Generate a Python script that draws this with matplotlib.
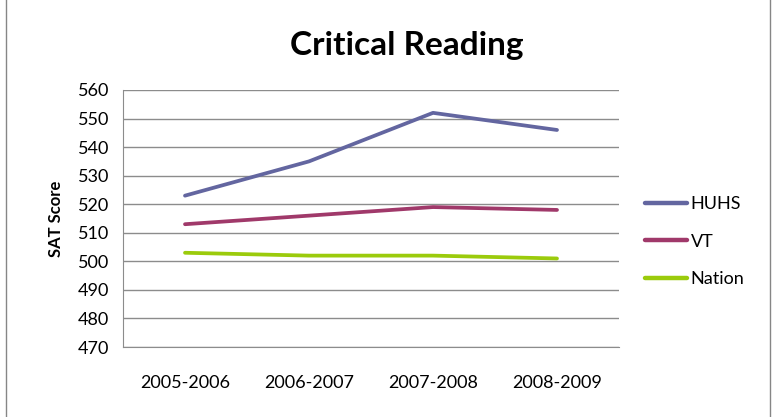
import matplotlib
matplotlib.use("Agg")
import matplotlib.pyplot as plt
from matplotlib.patches import Rectangle

years = ["2005-2006", "2006-2007", "2007-2008", "2008-2009"]
huhs = [523, 535, 552, 546]
vt = [513, 516, 519, 518]
nation = [503, 502, 502, 501]
series_names = ["HUHS", "VT", "Nation"]
colors = ["#6366A0", "#A0396A", "#9BCB0C"]
yticks = list(range(470, 561, 10))

plt.rcParams['font.family'] = ['Lato', 'DejaVu Sans']

fig = plt.figure(figsize=(7.74, 4.17), dpi=100)
fig.patches.append(Rectangle((6/774, -0.01), (770-6)/774, 1.02, transform=fig.transFigure,
                             fill=False, edgecolor="#868686", linewidth=1.0))
ax = fig.add_axes([123/774, 1-347/417, (619-123)/774, (347-90)/417])

x = list(range(len(years)))
for vals, name, c in zip([huhs, vt, nation], series_names, colors):
    ax.plot(x, vals, color=c, linewidth=2.7, label=name, solid_capstyle='round')

ax.set_xlim(-0.5, 3.5)
ax.set_ylim(470, 560)
ax.set_yticks(yticks)
ax.set_xticks(x)
ax.set_xticklabels(years)
ax.tick_params(axis='both', length=0, labelsize=13, colors="#000000")
ax.tick_params(axis='x', pad=20)
ax.tick_params(axis='y', pad=10)
ax.grid(axis='y', color="#8C8C8C", linewidth=1.0)
ax.set_axisbelow(True)
for s in ["top", "right"]:
    ax.spines[s].set_visible(False)
ax.spines["left"].set_color("#8C8C8C")
ax.spines["bottom"].set_color("#8C8C8C")
ax.set_ylabel("SAT Score", fontsize=12, fontweight='bold', labelpad=10)
fig.text(407/774, 1-45/417, "Critical Reading", ha='center', va='center',
         fontsize=24, fontweight='bold')

leg = ax.legend(loc='center left', bbox_to_anchor=(1.019, 0.41), frameon=False,
                fontsize=13, handlelength=2.35, handletextpad=0.2, labelspacing=1.2)
for line in leg.get_lines():
    line.set_linewidth(3.2)

fig.savefig("out.png", dpi=100)
